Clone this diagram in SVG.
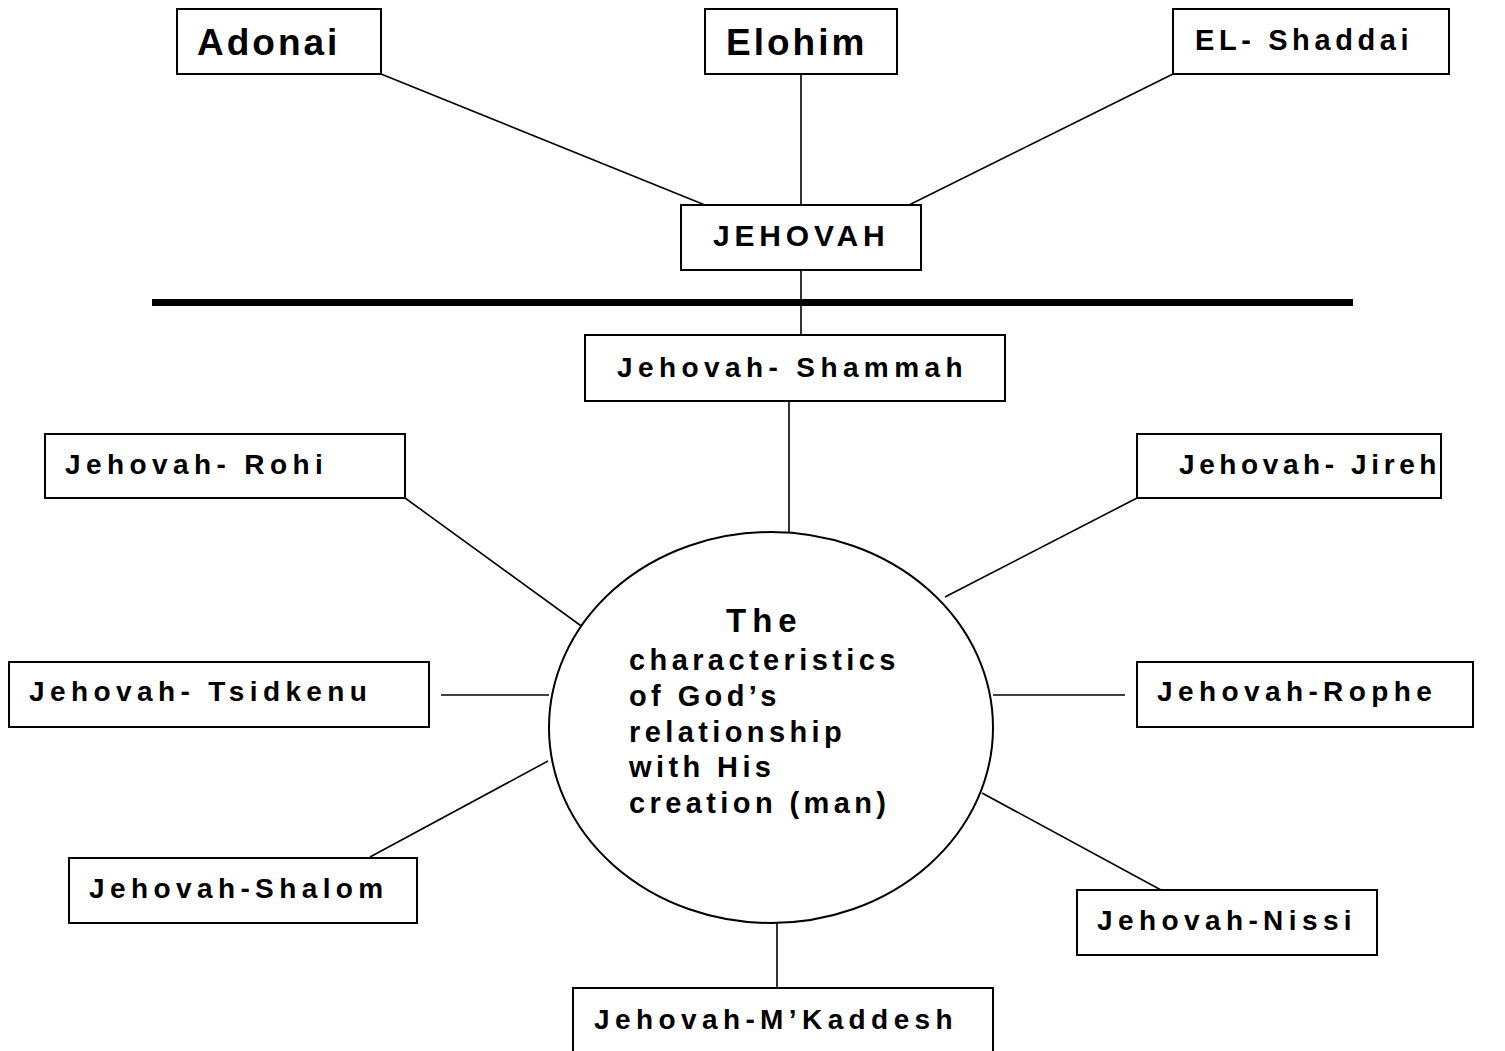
<svg xmlns="http://www.w3.org/2000/svg" width="1505" height="1051" viewBox="0 0 1505 1051">
<style>
.box{fill:#fff;stroke:#000;stroke-width:2}
.t{font-family:"Liberation Sans",Arial,sans-serif;font-weight:bold;fill:#000}
.l{font-size:28px;letter-spacing:5.4px}
.big{font-size:37px;letter-spacing:3px}
.c{font-size:29px;letter-spacing:4.4px}
.conn line{stroke:#000;stroke-width:1.6}
</style>
<rect width="1505" height="1051" fill="#fff"/>
<g id="connectors" class="conn">
<line x1="381" y1="74" x2="705" y2="205"/>
<line x1="801" y1="74" x2="801" y2="205"/>
<line x1="1173" y1="74" x2="909" y2="205"/>
<line x1="801" y1="270" x2="801" y2="335"/>
<line x1="789" y1="401" x2="789" y2="532"/>
<line x1="405" y1="498" x2="584" y2="628"/>
<line x1="1137" y1="498" x2="945" y2="597"/>
<line x1="441" y1="695" x2="549" y2="695"/>
<line x1="993" y1="695" x2="1125" y2="695"/>
<line x1="370" y1="857" x2="548" y2="761"/>
<line x1="982" y1="793" x2="1161" y2="890"/>
<line x1="777" y1="923" x2="777" y2="988"/>
</g>
<rect id="divider" x="152" y="299" width="1201" height="7" fill="#000"/>
<g id="adonai"><rect class="box" x="177" y="9" width="204" height="65"/><text class="t big" x="197" y="55">Adonai</text></g>
<g id="elohim"><rect class="box" x="705" y="9" width="192" height="65"/><text class="t big" x="726" y="55">Elohim</text></g>
<g id="el-shaddai"><rect class="box" x="1173" y="9" width="276" height="65"/><text class="t" x="1195" y="50" style="font-size:29px;letter-spacing:4.6px">EL- Shaddai</text></g>
<g id="jehovah"><rect class="box" x="681" y="205" width="240" height="65"/><text class="t" x="713" y="246" style="font-size:30px;letter-spacing:4.8px">JEHOVAH</text></g>
<g id="shammah"><rect class="box" x="585" y="335" width="420" height="66"/><text class="t l" x="617" y="377">Jehovah- Shammah</text></g>
<g id="rohi"><rect class="box" x="45" y="434" width="360" height="64"/><text class="t l" x="65" y="474">Jehovah- Rohi</text></g>
<g id="jireh"><rect class="box" x="1137" y="434" width="304" height="64"/><text class="t" x="1179" y="474" style="font-size:28px;letter-spacing:4.6px">Jehovah- Jireh</text></g>
<g id="tsidkenu"><rect class="box" x="9" y="662" width="420" height="65"/><text class="t l" x="29" y="701">Jehovah- Tsidkenu</text></g>
<g id="rophe"><rect class="box" x="1137" y="662" width="336" height="65"/><text class="t l" x="1157" y="701">Jehovah-Rophe</text></g>
<g id="shalom"><rect class="box" x="69" y="858" width="348" height="65"/><text class="t l" x="89" y="898">Jehovah-Shalom</text></g>
<g id="nissi"><rect class="box" x="1077" y="890" width="300" height="65"/><text class="t l" x="1097" y="930">Jehovah-Nissi</text></g>
<g id="mkaddesh"><rect class="box" x="573" y="988" width="420" height="80"/><text class="t l" x="594" y="1029">Jehovah-M’Kaddesh</text></g>
<g id="center">
<ellipse cx="771" cy="727.5" rx="222" ry="195.5" fill="#fff" stroke="#000" stroke-width="2"/>
<text class="t" x="726" y="632" style="font-size:33px;letter-spacing:6px">The</text>
<text class="t c" x="629" y="670">characteristics</text>
<text class="t c" x="629" y="706">of God’s</text>
<text class="t c" x="629" y="742">relationship</text>
<text class="t c" x="629" y="777">with His</text>
<text class="t c" x="629" y="813">creation (man)</text>
</g>
</svg>
